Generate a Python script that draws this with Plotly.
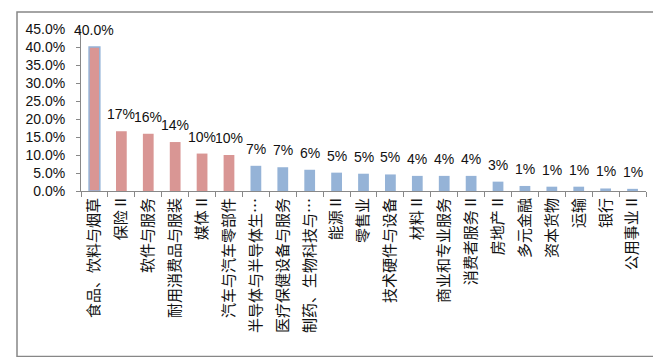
import plotly.graph_objects as go

categories = ["食品、饮料与烟草", "保险 II", "软件与服务", "耐用消费品与服装", "媒体 II",
              "汽车与汽车零部件", "半导体与半导体生…", "医疗保健设备与服务", "制药、生物科技与…",
              "能源 II", "零售业", "技术硬件与设备", "材料 II", "商业和专业服务", "消费者服务 II",
              "房地产 II", "多元金融", "资本货物", "运输", "银行", "公用事业 II"]
values = [0.400, 0.166, 0.159, 0.136, 0.104, 0.100, 0.070, 0.066, 0.059, 0.051, 0.048,
          0.046, 0.042, 0.042, 0.042, 0.026, 0.014, 0.012, 0.012, 0.007, 0.006]
label_formats = ["{:.1%}"] + ["{:.0%}"] * 20
groups = ["hi"] * 6 + ["lo"] * 15

PINK = "#D99694"
BLUE = "#95B3D7"
colors = [PINK if g == "hi" else BLUE for g in groups]
line_w = [1.5] + [0] * 20

W, H = 661, 357
L, R, T, B = 73, 638, 21, 183

fig = go.Figure()
fig.add_trace(go.Bar(
    x=categories, y=values,
    marker=dict(color=colors, line=dict(color=BLUE, width=line_w)),
    hoverinfo="skip",
))

for c, v, f in zip(categories, values, label_formats):
    fig.add_annotation(x=c, y=v, xref="x", yref="y", text=f.format(v),
                       showarrow=False, yanchor="bottom", yshift=7,
                       font=dict(family="Liberation Sans, Arial", size=14, color="#111"))

def px_x(p):
    return (p - L) / (R - L)

def px_y(p):
    return (B - p) / (B - T)

fig.add_shape(type="rect", xref="paper", yref="paper",
              x0=px_x(9), x1=px_x(656), y0=px_y(348.5), y1=px_y(4),
              line=dict(color="#878787", width=1.5), fillcolor="rgba(0,0,0,0)", layer="below")

fig.update_layout(
    width=W, height=H,
    margin=dict(l=L, r=W - R, t=T, b=H - B, pad=0, autoexpand=False),
    paper_bgcolor="white", plot_bgcolor="white",
    bargap=0.6,
    showlegend=False,
    font=dict(family="Liberation Sans, Arial", size=14, color="#111"),
    xaxis=dict(
        type="category",
        automargin=False,
        tickangle=-90,
        ticks="outside", ticklen=5, tickcolor="#888", tickwidth=1,
        tickson="boundaries",
        showline=True, linecolor="#888", linewidth=1,
        showgrid=False,
        tickfont=dict(family="Noto Sans CJK SC", size=15, color="#111"),
        range=[-0.5, len(categories) - 0.5],
    ),
    yaxis=dict(
        automargin=False,
        range=[0, 0.45], dtick=0.05, tickformat=".1%",
        ticks="outside", ticklen=4, tickcolor="#888",
        ticklabelstandoff=8,
        showline=True, linecolor="#888", linewidth=1,
        showgrid=False, zeroline=False,
        tickfont=dict(family="Liberation Sans, Arial", size=14, color="#111"),
    ),
)

fig.write_html("out.html")
